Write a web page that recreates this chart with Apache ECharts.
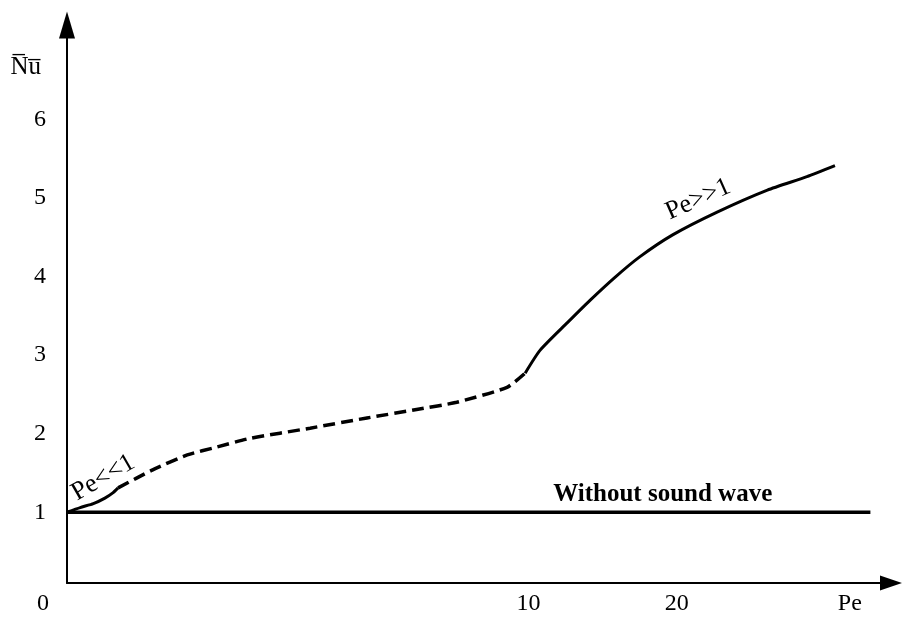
<!DOCTYPE html>
<html>
<head>
<meta charset="utf-8">
<title>Nu vs Pe</title>
<script src="https://cdn.jsdelivr.net/npm/echarts@6/dist/echarts.min.js"></script>
</head>
<body style="margin:0;background:#fff">
<div id="chart" style="width:903px;height:620px;"></div>
<script>
// x is in axis units (the Pe axis of the sketch is not linear), y is Nu
var lowCurve = [[0, 1.00], [1.6, 1.06], [3.2, 1.11], [4.6, 1.18], [5.6, 1.25], [6.2, 1.31]];
var midCurve = [[6.2, 1.31], [10.4, 1.54], [14.6, 1.73], [18.2, 1.83], [22.2, 1.94], [29.5, 2.07],
  [36.4, 2.20], [42.6, 2.31], [47.3, 2.40], [53.4, 2.59], [55.6, 2.77]];
var highCurve = [[55.6, 2.77], [57.4, 3.06], [60.7, 3.41], [63.5, 3.70], [66.5, 3.99], [69.5, 4.25],
  [73.5, 4.53], [78.9, 4.82], [85.0, 5.10], [89.8, 5.27], [93.2, 5.41]];
var baseLine = [[0, 1], [97.5, 1]];

var xTickValues = [0, 56, 74, 95];
var xTickLabels = ['0', '10', '20', 'Pe'];
var yTickValues = [1, 2, 3, 4, 5, 6];

var noteText = ['Pe<<1', 'Pe>>1', 'Without sound wave'];
var notePos = [[4.4, 1.44], [76.6, 4.98], [72.3, 1.22]];
var noteAngle = [30, 24, 0];

var font = 'Liberation Serif';
var chart = echarts.init(document.getElementById('chart'));

var notes = noteText.map(function (t, i) {
  return {
    name: t,
    coord: notePos[i],
    label: {
      show: true, position: 'inside', formatter: t, rotate: noteAngle[i],
      color: '#000', fontFamily: font, fontSize: i == 2 ? 25 : 26,
      fontWeight: i == 2 ? 'bold' : 'normal'
    }
  };
});

var line = {color: '#000', width: 3};

chart.setOption({
  animation: false,
  backgroundColor: '#fff',
  grid: {left: 67, right: 12, top: 25, bottom: 37},
  xAxis: {
    type: 'value', min: 0, max: 100,
    splitLine: {show: false},
    axisTick: {show: false},
    axisLine: {lineStyle: {color: '#000', width: 2}, symbol: ['none', 'triangle'], symbolSize: [15, 22]},
    axisLabel: {
      customValues: xTickValues, margin: 9,
      color: '#000', fontFamily: font, fontSize: 24,
      formatter: function (v) {
        var i = xTickValues.indexOf(v);
        return i === 0 ? '{o|' + xTickLabels[i] + '}' : xTickLabels[i];
      },
      rich: {o: {padding: [0, 48, 0, 0], fontFamily: font, fontSize: 24, color: '#000'}}
    }
  },
  yAxis: {
    type: 'value', min: 0.1, max: 7.2,
    name: 'N\u0305u\u0305', nameLocation: 'end', nameGap: -42,
    nameTextStyle: {color: '#000', fontFamily: font, fontSize: 25, align: 'right', verticalAlign: 'middle', padding: [0, 26, 0, 0]},
    splitLine: {show: false},
    axisTick: {show: false},
    axisLine: {lineStyle: {color: '#000', width: 2}, symbol: ['none', 'triangle'], symbolSize: [16, 27]},
    axisLabel: {customValues: yTickValues, margin: 21, color: '#000', fontFamily: font, fontSize: 24}
  },
  series: [
    {type: 'line', data: lowCurve, smooth: 0.2, showSymbol: false, lineStyle: line},
    {type: 'line', data: midCurve, smooth: 0.2, showSymbol: false, lineStyle: {color: '#000', width: 3.5, type: [12, 6]}},
    {type: 'line', data: highCurve, smooth: 0.2, showSymbol: false, lineStyle: line},
    {
      type: 'line', data: baseLine, showSymbol: false, lineStyle: {color: '#000', width: 3.5},
      markPoint: {symbol: 'rect', symbolSize: 1, itemStyle: {color: 'rgba(0,0,0,0)'}, data: notes}
    }
  ]
});
</script>
</body>
</html>
